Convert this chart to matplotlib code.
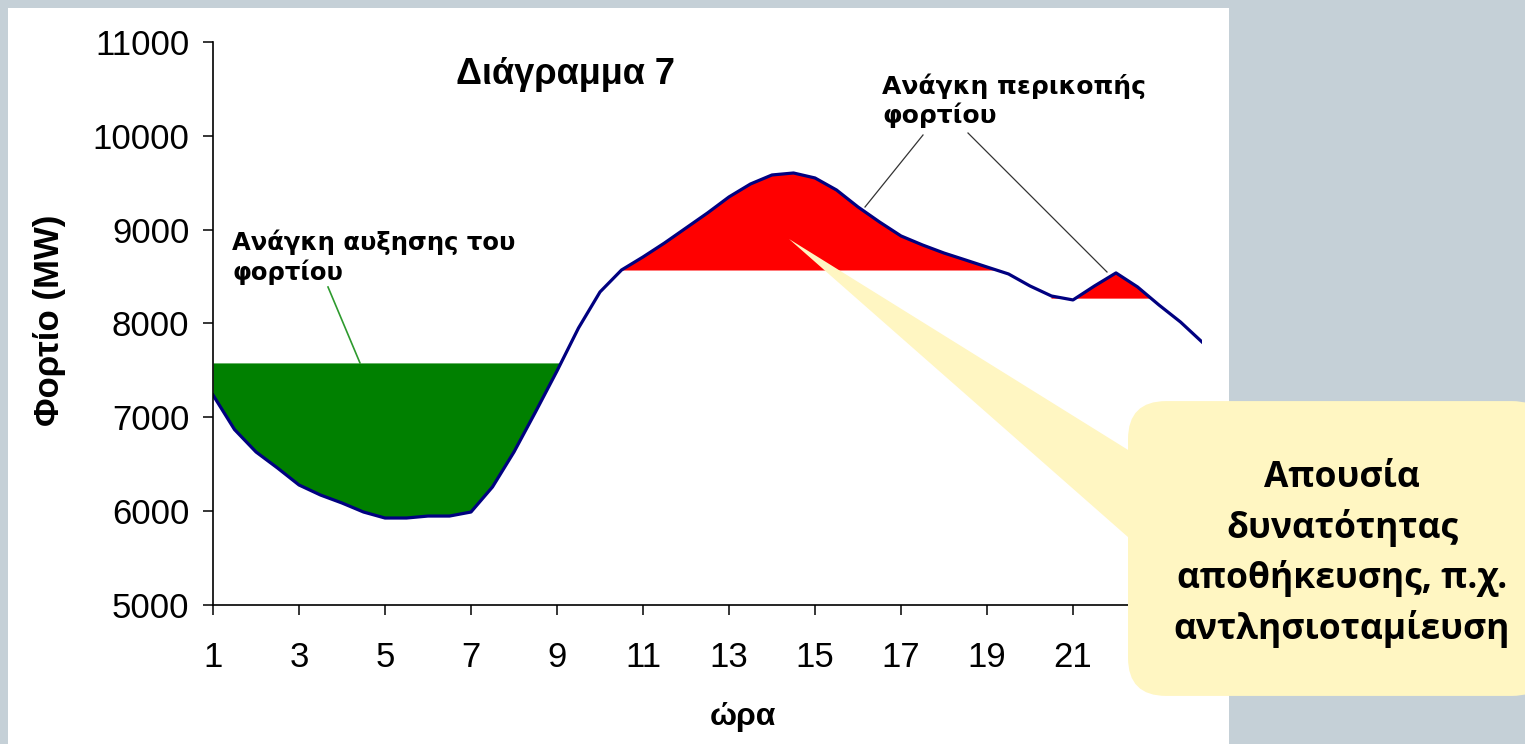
import matplotlib
matplotlib.use("Agg")
import matplotlib.pyplot as plt
import numpy as np
from matplotlib.patches import FancyBboxPatch, Polygon, Rectangle

# half-hourly load (MW), hours 1..24
hours = np.arange(1, 24.5, 0.5)
load = [
    7238, 6870, 6631, 6460, 6279, 6172, 6087, 5991, 5927, 5927,
    5948, 5948, 5991, 6258, 6631, 7057, 7494, 7952, 8336, 8570,
    8709, 8858, 9018, 9178, 9349, 9487, 9583, 9604, 9551, 9423,
    9242, 9082, 8933, 8837, 8751, 8677, 8602, 8528, 8400, 8293,
    8251, 8400, 8539, 8390, 8197, 8016, 7803,
]
raise_level = 7580      # green area: load below this
cut_level_day = 8570    # red area around the midday peak
cut_level_eve = 8265    # red area around the evening bump

x_ticks = list(range(1, 24, 2))
y_ticks = list(range(5000, 11001, 1000))

W, H = 1525, 744
load = np.array(load)


def fx(px):
    return px / W


def fy(py):
    return 1 - py / H


fig = plt.figure(figsize=(W / 100, H / 100), dpi=100, facecolor="#c5d0d7")
fig.add_artist(Rectangle((fx(8), 0), fx(1229) - fx(8), fy(8), transform=fig.transFigure,
                         facecolor="white", edgecolor="none", zorder=-5))

ax = fig.add_axes([fx(213), fy(605), fx(1202) - fx(213), fy(42) - fy(605)])
ax.set_facecolor("none")

ax.fill_between(hours, load, raise_level, where=load < raise_level,
                interpolate=True, color="#008000", linewidth=0)
ax.fill_between(hours, load, cut_level_day,
                where=(load > cut_level_day) & (hours >= 10) & (hours <= 20),
                interpolate=True, color="#ff0000", linewidth=0)
ax.fill_between(hours, load, cut_level_eve,
                where=(load > cut_level_eve) & (hours >= 20.5),
                interpolate=True, color="#ff0000", linewidth=0)
ax.plot(hours, load, color="#000080", linewidth=2.3, solid_joinstyle="round")

ax.set_xlim(1, 24)
ax.set_ylim(5000, 11000)
ax.set_xticks(x_ticks)
ax.set_yticks(y_ticks)
ax.tick_params(axis="both", direction="out", length=7, width=1.1, color="black",
               labelsize=25)
ax.tick_params(axis="y", pad=10)
ax.tick_params(axis="x", pad=19)
for lab in ax.get_xticklabels() + ax.get_yticklabels():
    lab.set_fontfamily("Liberation Sans")
ax.spines[["top", "right"]].set_visible(False)
ax.spines[["left", "bottom"]].set_linewidth(1.2)

fig.text(fx(50), fy(320), "Φορτίο (MW)", rotation=90, ha="center", va="center",
         fontsize=25, fontweight="bold", family="Liberation Sans")
fig.text(fx(743), fy(717), "ώρα", ha="center", va="center",
         fontsize=23, fontweight="bold", family="Liberation Sans")
fig.text(fx(566), fy(75), "Διάγραμμα 7", ha="center", va="center",
         fontsize=26, fontweight="bold", family="Liberation Sans")

fig.text(fx(232), fy(257), "Ανάγκη αυξησης του\nφορτίου", ha="left", va="center",
         fontsize=17.5, fontweight="bold", family="DejaVu Sans", linespacing=1.2)
fig.text(fx(882), fy(101), "Ανάγκη περικοπής\nφορτίου", ha="left", va="center",
         fontsize=18, fontweight="bold", family="DejaVu Sans", linespacing=1.15)

# leader lines
fig.add_artist(plt.Line2D([fx(328), fx(360)], [fy(287), fy(363)], color="#2e9a2e", lw=1.2))
fig.add_artist(plt.Line2D([fx(923), fx(865)], [fy(135), fy(207)], color="#333333", lw=0.9))
fig.add_artist(plt.Line2D([fx(968), fx(1107)], [fy(133), fy(272)], color="#333333", lw=0.9))

# callout
yellow = "#fff6c2"
fig.add_artist(Polygon([(fx(789), fy(239)), (fx(1170), fy(476)), (fx(1170), fy(574))],
                       closed=True, transform=fig.transFigure, facecolor=yellow,
                       edgecolor="none", zorder=5))
fig.add_artist(FancyBboxPatch((fx(1128) + 0.025, fy(695) + 0.05),
                              fx(1550) - fx(1128) - 0.05, fy(402) - fy(695) - 0.1,
                              boxstyle="round,pad=0.025,rounding_size=0.025",
                              transform=fig.transFigure, facecolor=yellow,
                              edgecolor="none", zorder=5, mutation_aspect=W / H))
fig.text(fx(1342), fy(554), "Απουσία\nδυνατότητας\nαποθήκευσης, π.χ.\nαντλησιοταμίευση",
         ha="center", va="center", fontsize=25.5, fontweight="bold", family="Open Sans",
         linespacing=1.45, zorder=6)

fig.savefig("out.png", dpi=100, facecolor=fig.get_facecolor())
